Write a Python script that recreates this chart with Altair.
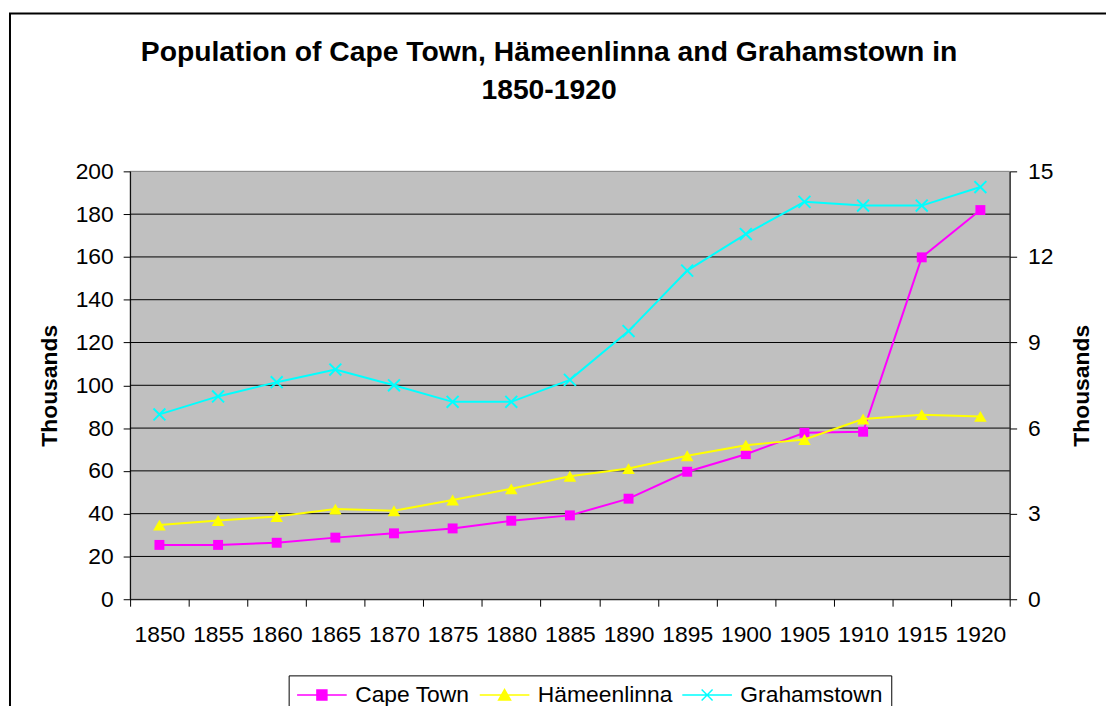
import altair as alt
import pandas as pd

# ---------------- data ----------------
years = ["1850", "1855", "1860", "1865", "1870", "1875", "1880", "1885",
         "1890", "1895", "1900", "1905", "1910", "1915", "1920"]
cape_town = [25.4, 25.4, 26.4, 28.8, 30.8, 33.1, 36.7, 39.2, 47.0, 59.6,
             67.8, 77.8, 78.3, 159.8, 181.9]
hameenlinna = [2.6, 2.76, 2.9, 3.16, 3.1, 3.48, 3.87, 4.31, 4.58, 5.03,
               5.4, 5.6, 6.32, 6.47, 6.41]
grahamstown = [6.48, 7.11, 7.61, 8.05, 7.5, 6.92, 6.92, 7.69, 9.4, 11.52,
               12.8, 13.93, 13.8, 13.8, 14.45]
series_names = ["Cape Town", "Hämeenlinna", "Grahamstown"]
series_colors = ["#FF00FF", "#FFFF00", "#00FFFF"]
left_ticks = [0, 20, 40, 60, 80, 100, 120, 140, 160, 180, 200]
grid_values = [20, 40, 60, 80, 100, 120, 140, 160, 180]
right_ticks = [0, 3, 6, 9, 12, 15]
title_text = "Population of Cape Town, Hämeenlinna and Grahamstown in\n1850-1920"
axis_title = "Thousands"

FONT = "Liberation Sans, Arial, sans-serif"
X_PATH = "M-1,-1L1,1M1,-1L-1,1"
legend_shapes = [
    "M-5,0H5M-1,-1H1V1H-1Z",
    "M-5,0H5M0,-1.1L1.2,1H-1.2Z",
    "M-5,0H5M-1.1,-1.1L1.1,1.1M1.1,-1.1L-1.1,1.1",
]

df = pd.DataFrame({
    "year": years * 3,
    "series": [series_names[0]] * len(years) + [series_names[1]] * len(years) + [series_names[2]] * len(years),
    "value": cape_town + hameenlinna + grahamstown,
})
grid_df = pd.DataFrame({"value": grid_values})

# ---------------- encodings ----------------
x_axis = alt.Axis(title=None, labelAngle=0, tickBand="extent", tickSize=7, tickColor="black",
                  domainColor="black", labelFont=FONT, labelFontSize=23, labelColor="black",
                  labelPadding=18, grid=False, zindex=1)
x_enc = alt.X("year:O", sort=years,
              scale=alt.Scale(type="band", domain=years, paddingInner=0, paddingOuter=0),
              axis=x_axis)

left_axis = alt.Axis(values=left_ticks, orient="left", grid=False, zindex=1,
                     domainColor="black", tickColor="black", tickSize=7,
                     labelFont=FONT, labelFontSize=23, labelColor="black", labelPadding=10,
                     title=axis_title, titleFont=FONT, titleFontSize=23, titleFontWeight="bold",
                     titleColor="black", titlePadding=14)
right_axis = alt.Axis(values=right_ticks, orient="right", grid=False, zindex=1,
                      domainColor="black", tickColor="black", tickSize=7,
                      labelFont=FONT, labelFontSize=23, labelColor="black", labelPadding=11,
                      title=axis_title, titleFont=FONT, titleFontSize=23, titleFontWeight="bold",
                      titleColor="black", titleAngle=270, titleBaseline="top", titlePadding=18)

y_left = alt.Y("value:Q", scale=alt.Scale(domain=[0, 200], nice=False), axis=left_axis)
y_right = alt.Y("value:Q", scale=alt.Scale(domain=[0, 15], nice=False), axis=right_axis)

base = alt.Chart(df)

# plot-area background and horizontal gridlines (left scale)
one = pd.DataFrame({"k": [0]})
plot_bg = alt.Chart(one).mark_rect(fill="#C0C0C0", stroke="#808080", strokeWidth=1).encode(
    x=alt.value(0), x2=alt.value(886), y=alt.value(0), y2=alt.value(431))
grid = alt.Chart(grid_df).mark_rule(color="black", strokeWidth=1).encode(y=y_left)

# Cape Town on the left axis
ct = base.transform_filter(alt.datum.series == series_names[0])
left = alt.layer(
    grid,
    ct.mark_line(color=series_colors[0], strokeWidth=2).encode(x=x_enc, y=y_left),
    ct.mark_point(shape="square", filled=True, size=100, color=series_colors[0], opacity=1).encode(x=x_enc, y=y_left),
)

# Hämeenlinna and Grahamstown on the right axis
hm = base.transform_filter(alt.datum.series == series_names[1])
gr = base.transform_filter(alt.datum.series == series_names[2])
right = alt.layer(
    hm.mark_line(color=series_colors[1], strokeWidth=2).encode(x=x_enc, y=y_right),
    hm.mark_point(shape="triangle-up", filled=True, size=160, color=series_colors[1], opacity=1).encode(x=x_enc, y=y_right),
    gr.mark_line(color=series_colors[2], strokeWidth=2).encode(x=x_enc, y=y_right),
    gr.mark_point(shape=X_PATH, filled=False, size=144, color=series_colors[2], strokeWidth=2, opacity=1).encode(x=x_enc, y=y_right),
)

# legend (built from an empty layer whose scales carry line+marker symbols)
leg = alt.Legend(title=None, orient="none", legendX=159.7, legendY=507.7, direction="horizontal",
                 strokeColor="black", fillColor="white", padding=8, symbolSize=100,
                 symbolStrokeWidth=1.5, symbolOffset=14, labelOffset=22, columnPadding=6,
                 labelFont=FONT, labelFontSize=23, labelColor="black")
legend_layer = base.transform_filter("datum.value < 0").mark_point(filled=True, opacity=1, size=100, strokeWidth=1.5).encode(
    fill=alt.Fill("series:N", scale=alt.Scale(domain=series_names, range=series_colors), legend=leg),
    stroke=alt.Stroke("series:N", scale=alt.Scale(domain=series_names, range=series_colors), legend=leg),
    shape=alt.Shape("series:N", scale=alt.Scale(domain=series_names, range=legend_shapes), legend=leg),
)

frame = alt.Chart(one).mark_rect(fillOpacity=0, stroke="black", strokeWidth=2).encode(
    x=alt.value(-121), x2=alt.value(1300), y=alt.value(-159), y2=alt.value(1300))
title = alt.Chart(one).mark_text(lineBreak="\n", font=FONT, fontSize=28.5, fontWeight="bold",
                                 align="center", baseline="alphabetic", lineHeight=39, color="black").encode(
    x=alt.value(422), y=alt.value(-111.5), text=alt.value(title_text))

chart = alt.layer(frame, plot_bg, left, right, legend_layer, title).resolve_scale(
    y="independent"
).properties(
    width=886, height=431,
    autosize=alt.AutoSizeParams(type="none"),
    padding={"left": 123, "top": 162, "right": 97, "bottom": 105},
    background="white",
).configure_view(
    stroke=None
)

chart.save("out.html", embed_options={"renderer": "svg", "actions": False})
